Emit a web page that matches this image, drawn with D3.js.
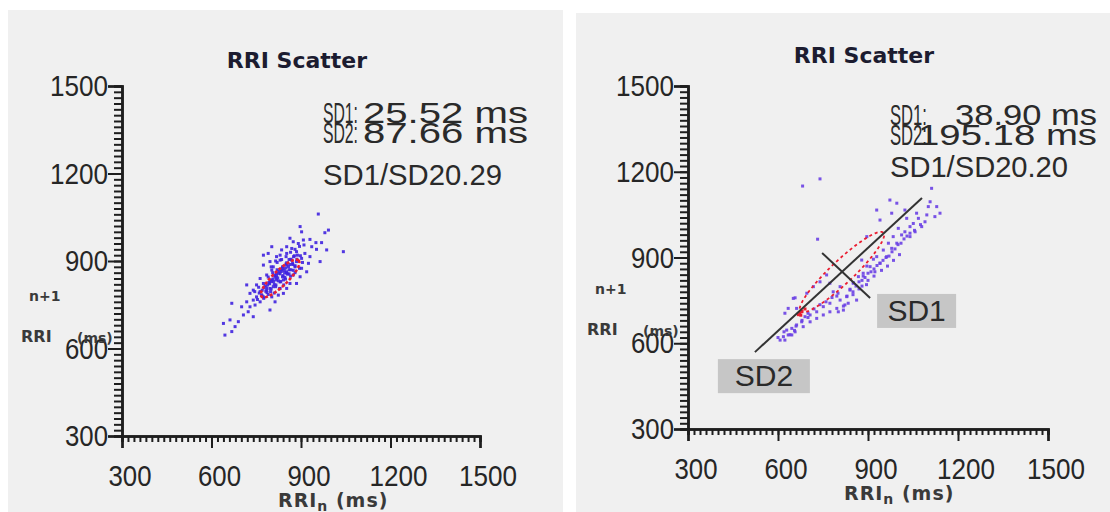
<!DOCTYPE html>
<html lang="en">
<head>
<meta charset="utf-8">
<script src="https://d3js.org/d3.v7.min.js"></script>
<style>
  body { margin: 0; background: #ffffff; }
  svg { display: block; }
  .tick-label { font-family: "Liberation Sans", Arial, sans-serif; fill: #262626; }
  .stat { font-family: "Liberation Sans", Arial, sans-serif; fill: #2a2a2a; font-size: 30px; }
  .title { font-family: "DejaVu Sans", Verdana, sans-serif; font-weight: bold; font-size: 22px; fill: #1c1c30; }
  .axis-title { font-family: "DejaVu Sans", Verdana, sans-serif; font-weight: bold; fill: #3a3a3a; }
</style>
</head>
<body>
<div id="chart"></div>
<script>
// ---- data ----
var majorTicks = [300, 600, 900, 1200, 1500];
var tickLabels = ["300", "600", "900", "1200", "1500"];

// left panel: RRI_n / RRI_n+1 in ms
var leftRRn = [958, 897, 902, 992, 980, 1042, 986, 964, 925, 863, 874, 891, 908, 930, 950, 969, 936, 952,
  802, 835, 774, 796, 818, 852, 885, 913, 930, 902, 869, 852, 880, 902, 919, 897, 874, 835, 818, 802, 785,
  763, 774, 796, 818, 841, 863, 885, 852, 830, 807, 785, 763, 751, 740, 729, 751, 774, 802, 824, 841, 796,
  813, 763, 740, 718, 701, 729, 746, 707, 723, 740, 690, 679, 668, 645, 640, 662, 718, 668, 774, 790, 852,
  869, 830, 807, 852, 885,
  790, 805, 820, 838, 850, 860, 875, 888, 800, 812, 826, 845, 860, 872, 780, 795, 808, 822, 840, 855, 770,
  785, 798, 815, 830, 848, 865, 880, 895, 905, 760, 775, 790, 810, 828, 842, 758, 745, 820, 835, 850, 865,
  880, 895, 910, 800, 815, 830,
  812, 826, 838, 852, 866, 878, 792, 806, 818, 834, 848, 862, 776, 788, 802, 816, 830, 844, 858, 872, 886,
  898, 768, 782, 796, 810, 824, 838, 852, 866, 880, 754, 770, 786, 800, 816, 832, 846, 860, 874];
var leftRRn1 = [1061, 1018, 1000, 1006, 997, 932, 938, 898, 892, 978, 966, 960, 972, 974, 963, 963, 949, 940,
  949, 938, 886, 898, 915, 926, 932, 926, 915, 909, 903, 886, 880, 875, 863, 846, 852, 869, 858, 869, 852,
  840, 823, 829, 835, 835, 823, 823, 806, 806, 812, 800, 795, 818, 800, 789, 777, 777, 777, 783, 789, 732,
  760, 760, 766, 760, 743, 743, 749, 715, 726, 709, 692, 675, 658, 646, 686, 698, 818, 755, 920, 926, 949,
  943, 903, 880, 863, 898,
  845, 860, 870, 875, 890, 905, 915, 920, 835, 848, 858, 860, 870, 888, 815, 822, 830, 842, 850, 855, 800,
  808, 795, 812, 828, 838, 848, 860, 875, 895, 790, 772, 785, 790, 805, 818, 810, 795, 895, 905, 915, 930,
  940, 950, 955, 880, 900, 920,
  852, 866, 880, 894, 906, 918, 826, 838, 850, 864, 876, 888, 808, 818, 830, 842, 856, 868, 880, 892, 906,
  918, 784, 796, 806, 820, 832, 846, 858, 870, 884, 768, 780, 792, 804, 818, 830, 844, 856, 868];

// right panel
var rightRRn = [682, 740, 732, 1112, 1107, 1101, 1129, 1140, 1123, 973, 996, 929, 979, 1023, 940, 1029, 1062,
  1068, 1096, 1090, 1051, 1040, 1079, 1001, 1023, 1057, 896, 984, 1012, 1040, 968, 996, 951, 979, 929, 962,
  940, 907, 923, 884, 879,
  651, 634, 623, 662, 696, 718, 740, 762, 773, 784, 807, 807, 829, 840, 823, 796, 773, 751, 729, 707, 690,
  679, 707, 662, 684, 646, 629, 657, 634, 618, 607, 623, 646, 729, 751, 773, 801, 818, 834, 862, 851, 868,
  796, 840, 884, 918, 818, 851, 896, 657,
  860, 880, 900, 920, 940, 960, 980, 1000, 1020, 1040, 880, 900, 920, 945, 965, 985, 1005, 850, 870, 895,
  830, 850, 700, 720, 740, 760, 780, 800, 660, 680, 700, 640, 655, 620, 600,
  870, 890, 910, 930, 950, 970, 990, 1010, 1030, 1055, 1075];
var rightRRn1 = [1150, 1175, 964, 1142, 1095, 1078, 1078, 1055, 1043, 1101, 1090, 1066, 1055, 1066, 1031, 1037,
  1055, 1037, 1049, 1025, 1019, 1008, 1008, 1002, 990, 990, 973, 973, 979, 973, 950, 950, 926, 932, 903, 903,
  880, 868, 850, 845, 891,
  757, 722, 705, 722, 775, 798, 815, 839, 810, 780, 798, 751, 763, 786, 734, 722, 740, 728, 710, 699, 693,
  675, 675, 664, 658, 652, 646, 640, 629, 623, 611, 611, 629, 687, 699, 710, 710, 716, 740, 751, 810, 833,
  765, 789, 835, 894, 730, 812, 870, 759,
  800, 820, 845, 860, 880, 900, 920, 945, 965, 985, 800, 820, 835, 855, 870, 890, 910, 780, 790, 805,
  765, 770, 705, 720, 735, 745, 760, 775, 660, 680, 690, 630, 645, 640, 620,
  815, 830, 850, 872, 890, 905, 930, 950, 975, 995, 1015];

// red highlighted beats (right panel)
var rightRedRRn = [673, 680, 668, 690, 676];
var rightRedRRn1 = [706, 712, 700, 720, 698];

// Poincare statistics
var panelStats = [
  { sd1: "25.52 ms", sd2: "87.66 ms", ratio: "SD1/SD20.29", cx: 830, cy: 840, sd1v: 25.52, sd2v: 87.66 },
  { sd1: "38.90 ms", sd2: "195.18 ms", ratio: "SD1/SD20.20", cx: 813, cy: 849, sd1v: 38.90, sd2v: 195.18 }
];

// SD axes drawn on the right panel (ms)
var sd2LineX = [523, 1080], sd2LineY = [569, 1108];
var sd1LineX = [747, 907], sd1LineY = [916, 758];
var boxLabels = ["SD2", "SD1"];
var boxX = [553, 1062], boxY = [485, 713];

// ---- layout ----
var width = 1110, height = 512;
var layout = [
  { bg: [8, 10, 555, 502], xr: [122, 480], yr: [436, 86], title: [297, 68], statX: 323, statR: 528,
    statY: [123, 143, 185], labW: 35, valW: [165, 165], ratioW: 179, color: "#3f22df" },
  { bg: [576, 13, 534, 499], xr: [688, 1048], yr: [429, 86], title: [864, 63], statX: 890, statR: 1097,
    statY: [125, 145, 177], labW: 37, valW: [142, 179], ratioW: 178, color: "#6a40e4" }
];

var svg = d3.select('#chart')
  .append('svg')
  .attr('width', width)
  .attr('height', height);

var seriesX = [leftRRn, rightRRn], seriesY = [leftRRn1, rightRRn1];

layout.forEach(function (L, p) {
  var st = panelStats[p];
  var g = svg.append('g');

  g.append('rect')
    .attr('x', L.bg[0]).attr('y', L.bg[1])
    .attr('width', L.bg[2]).attr('height', L.bg[3])
    .attr('fill', '#f0f0f0');

  var x = d3.scaleLinear().domain([300, 1500]).range(L.xr);
  var y = d3.scaleLinear().domain([300, 1500]).range(L.yr);
  var minor = d3.range(300, 1501, 20);

  // title
  g.append('text').attr('class', 'title')
    .attr('x', L.title[0]).attr('y', L.title[1])
    .attr('text-anchor', 'middle')
    .text('RRI Scatter');

  // stats block
  var lines = [["SD1:", st.sd1], ["SD2:", st.sd2]];
  lines.forEach(function (l, i) {
    g.append('text').attr('class', 'stat')
      .attr('x', L.statX).attr('y', L.statY[i])
      .attr('textLength', L.labW).attr('lengthAdjust', 'spacingAndGlyphs')
      .text(l[0]);
    g.append('text').attr('class', 'stat')
      .attr('x', L.statR - L.valW[i]).attr('y', L.statY[i])
      .attr('textLength', L.valW[i]).attr('lengthAdjust', 'spacingAndGlyphs')
      .text(l[1]);
  });
  g.append('text').attr('class', 'stat')
    .attr('x', L.statX).attr('y', L.statY[2])
    .attr('textLength', L.ratioW).attr('lengthAdjust', 'spacingAndGlyphs')
    .text(st.ratio);

  // axes: minor + major ticks
  var x0 = L.xr[0], y0 = L.yr[0];
  var yAxisMinor = g.append('g').attr('transform', 'translate(' + x0 + ',0)')
    .call(d3.axisLeft(y).tickValues(minor).tickSize(8).tickFormat(''));
  var yAxisMajor = g.append('g').attr('transform', 'translate(' + x0 + ',0)')
    .call(d3.axisLeft(y).tickValues(majorTicks).tickSize(14).tickFormat(''));
  var xAxisMinor = g.append('g').attr('transform', 'translate(0,' + y0 + ')')
    .call(d3.axisBottom(x).tickValues(minor).tickSize(6).tickFormat(''));
  var xAxisMajor = g.append('g').attr('transform', 'translate(0,' + y0 + ')')
    .call(d3.axisBottom(x).tickValues(majorTicks).tickSize(12).tickFormat(''));
  [yAxisMinor, yAxisMajor, xAxisMinor, xAxisMajor].forEach(function (a) {
    a.selectAll('path.domain').attr('stroke', '#1e1e1e').attr('stroke-width', 2.5);
    a.selectAll('.tick line').attr('stroke', '#1e1e1e').attr('stroke-width', 2);
  });

  // tick labels
  g.selectAll('.ylab').data(majorTicks).enter().append('text')
    .attr('class', 'tick-label')
    .attr('x', x0 - 14).attr('y', function (d) { return y(d) + 10; })
    .attr('text-anchor', 'end')
    .attr('font-size', 29)
    .attr('textLength', function (d, i) { return tickLabels[i].length > 3 ? 58 : 43; })
    .attr('lengthAdjust', 'spacingAndGlyphs')
    .text(function (d, i) { return tickLabels[i]; });
  g.selectAll('.xlab').data(majorTicks).enter().append('text')
    .attr('class', 'tick-label')
    .attr('x', function (d, i) { return x(d) + 8 - (tickLabels[i].length > 3 ? 29 : 21.5); })
    .attr('y', y0 + 50)
    .attr('font-size', 30)
    .attr('textLength', function (d, i) { return tickLabels[i].length > 3 ? 58 : 43; })
    .attr('lengthAdjust', 'spacingAndGlyphs')
    .text(function (d, i) { return tickLabels[i]; });

  // axis titles
  var xt = g.append('text').attr('class', 'axis-title')
    .attr('x', x0 + 156).attr('y', y0 + 71).attr('font-size', 19)
    .attr('letter-spacing', 1);
  xt.append('tspan').text('RRI');
  xt.append('tspan').attr('dy', 4).attr('font-size', 14).text('n');
  xt.append('tspan').attr('dy', -4).text(' (ms)');

  g.append('text').attr('class', 'axis-title').attr('font-size', 14)
    .attr('x', x0 - 93).attr('y', y0 - 135).text('n+1');
  g.append('text').attr('class', 'axis-title').attr('font-size', 16)
    .attr('x', x0 - 101).attr('y', y0 - 94).text('RRI');
  g.append('text').attr('class', 'axis-title').attr('font-size', 14)
    .attr('x', x0 - 45).attr('y', y0 - 93).text('(ms)');

  // scatter points
  var pts = seriesX[p].map(function (v, i) { return [v, seriesY[p][i]]; });
  g.selectAll('.pt').data(pts).enter().append('rect')
    .attr('x', function (d) { return x(d[0]) - 1.5; })
    .attr('y', function (d) { return y(d[1]) - 1.5; })
    .attr('width', 3).attr('height', 3)
    .attr('fill', L.color)
    .attr('opacity', 0.9);

  // Poincare ellipse (SD2 along the identity line, SD1 across it)
  var ang = d3.range(0, 2 * Math.PI + 0.01, Math.PI / 60);
  var ell = d3.line()
    .x(function (t) { return x(st.cx + (st.sd2v * Math.cos(t) - st.sd1v * Math.sin(t)) / Math.SQRT2); })
    .y(function (t) { return y(st.cy + (st.sd2v * Math.cos(t) + st.sd1v * Math.sin(t)) / Math.SQRT2); });
  g.append('path').attr('d', ell(ang))
    .attr('fill', 'none')
    .attr('stroke', '#ea1c30')
    .attr('stroke-width', p === 0 ? 2.6 : 1.8)
    .attr('stroke-dasharray', p === 0 ? '3,2' : '3,3');

  if (p === 1) {
    g.selectAll('.red').data(rightRedRRn).enter().append('rect')
      .attr('x', function (d) { return x(d) - 1.5; })
      .attr('y', function (d, i) { return y(rightRedRRn1[i]) - 1.5; })
      .attr('width', 3).attr('height', 3)
      .attr('fill', '#ea1c30');

    var seg = d3.line().x(function (d) { return x(d[0]); }).y(function (d) { return y(d[1]); });
    g.append('path').attr('d', seg([[sd2LineX[0], sd2LineY[0]], [sd2LineX[1], sd2LineY[1]]]))
      .attr('stroke', '#333').attr('stroke-width', 2).attr('fill', 'none');
    g.append('path').attr('d', seg([[sd1LineX[0], sd1LineY[0]], [sd1LineX[1], sd1LineY[1]]]))
      .attr('stroke', '#333').attr('stroke-width', 2).attr('fill', 'none');

    var bw = [92, 79];
    boxLabels.forEach(function (lab, i) {
      g.append('rect')
        .attr('x', x(boxX[i]) - bw[i] / 2).attr('y', y(boxY[i]) - 17)
        .attr('width', bw[i]).attr('height', 34)
        .attr('fill', '#c6c6c6');
      g.append('text').attr('class', 'stat')
        .attr('x', x(boxX[i])).attr('y', y(boxY[i]) + 10)
        .attr('text-anchor', 'middle')
        .attr('font-size', 28)
        .text(lab);
    });
  }
});
</script>
</body>
</html>
